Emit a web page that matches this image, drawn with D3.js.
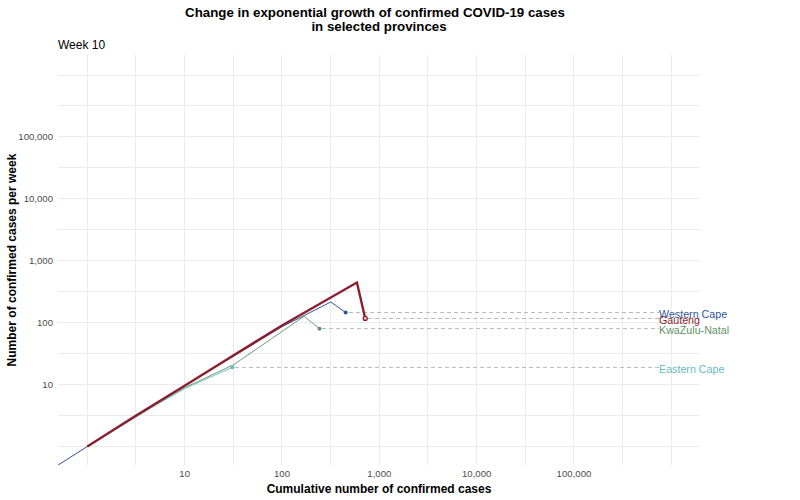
<!doctype html>
<html lang="en">
<head>
  <meta charset="utf-8">
  <title>Change in exponential growth</title>
  <style>
    html, body {
      margin: 0;
      background: #fff;
    }
    text {
      font-family: "Liberation Sans", Arial, sans-serif;
    }
    .grid line {
      stroke: #ebebeb;
      stroke-width: 1px;
      shape-rendering: crispEdges;
    }
    .tick text {
      font-size: 9.6px;
      fill: #4d4d4d;
    }
    .axis-title {
      font-size: 12px;
      font-weight: bold;
      fill: #000;
    }
    .title {
      font-size: 13.3px;
      font-weight: bold;
      fill: #000;
    }
    .subtitle {
      font-size: 12px;
      fill: #000;
    }
    .guide {
      stroke: #bbb;
      stroke-width: 1px;
      stroke-dasharray: 4 3;
      shape-rendering: crispEdges;
    }
    .label {
      font-size: 10.7px;
    }
  </style>
</head>
<body>
  <svg id="chart" width="800" height="500"></svg>
  <script src="https://d3js.org/d3.v7.min.js"></script>
  <script>
    // [cumulative cases, cases per week]
    var westernCape = [[0.5, 0.5], [1, 1], [5, 5], [31, 28], [100, 86], [318, 216], [451, 146]]
    var kwaZuluNatal = [[1, 1], [5, 4.7], [10, 8.9], [32, 21], [169, 127], [243, 80]]
    var easternCape = [[1, 1], [5, 4.6], [10, 8.6], [31, 19]]
    var gauteng = [[1, 1], [3, 3], [10, 9.6], [31, 29], [100, 90], [589, 445], [717, 117]]

    var provinces = ["Western Cape", "KwaZulu-Natal", "Eastern Cape", "Gauteng"]
    var provinceValues = [westernCape, kwaZuluNatal, easternCape, gauteng]
    var provinceColours = ["#2f5597", "#5f9368", "#66bcc0", "#8b1f2e"]
    var provinceWidths = [1, 0.9, 0.9, 2.4]

    var majorBreaks = [1, 10, 100, 1000, 10000, 100000, 1000000]
    var minorBreaks = [3.16, 31.6, 316, 3162, 31623, 316228]
    var labelledBreaks = [10, 100, 1000, 10000, 100000]

    var panel = {left: 58, right: 700, top: 55, bottom: 465}

    var x = d3.scaleLog().domain([1, 1000000]).range([87.3, 671.3])
    var y = d3.scaleLog().domain([1, 1000000]).range([446.5, 75])

    var svg = d3.select("#chart")

    svg.append("clipPath").attr("id", "panel")
      .append("rect")
      .attr("x", panel.left)
      .attr("y", panel.top)
      .attr("width", panel.right - panel.left)
      .attr("height", panel.bottom - panel.top)

    // grid
    var allBreaks = majorBreaks.concat(minorBreaks)
    var grid = svg.append("g").attr("class", "grid")
    grid.selectAll(".h").data(allBreaks).enter().append("line")
      .attr("x1", panel.left).attr("x2", panel.right)
      .attr("y1", function(d) { return y(d) }).attr("y2", function(d) { return y(d) })
    grid.selectAll(".v").data(allBreaks).enter().append("line")
      .attr("y1", panel.top).attr("y2", panel.bottom)
      .attr("x1", function(d) { return x(d) }).attr("x2", function(d) { return x(d) })

    // axes
    var xAxis = d3.axisBottom(x).tickValues(labelledBreaks).tickFormat(d3.format(",")).tickSize(0).tickPadding(5)
    var yAxis = d3.axisLeft(y).tickValues(labelledBreaks).tickFormat(d3.format(",")).tickSize(0).tickPadding(5)
    svg.append("g").attr("transform", "translate(-0.5," + panel.bottom + ")").call(xAxis)
      .call(function(g) { g.select(".domain").remove() })
    svg.append("g").attr("transform", "translate(" + panel.left + ",0)").call(yAxis)
      .call(function(g) { g.select(".domain").remove() })
    svg.selectAll(".tick text").attr("font-family", null).attr("font-size", null)

    // dashed guides to the labels
    var labelX = 659
    var ends = provinceValues.map(function(v) { return v[v.length - 1] })
    svg.append("g").selectAll("line").data(ends).enter().append("line")
      .attr("class", "guide")
      .attr("x1", function(d) { return x(d[0]) + 3 })
      .attr("x2", labelX)
      .attr("y1", function(d) { return y(d[1]) })
      .attr("y2", function(d) { return y(d[1]) })

    // lines
    var line = d3.line()
      .x(function(d) { return x(d[0]) })
      .y(function(d) { return y(d[1]) })
    svg.append("g").attr("clip-path", "url(#panel)")
      .selectAll("path").data(provinceValues).enter().append("path")
      .attr("d", line)
      .attr("fill", "none")
      .attr("stroke", function(d, i) { return provinceColours[i] })
      .attr("stroke-width", function(d, i) { return provinceWidths[i] })

    // end points
    svg.append("g").selectAll("circle").data(ends).enter().append("circle")
      .attr("cx", function(d) { return x(d[0]) })
      .attr("cy", function(d) { return y(d[1]) })
      .attr("r", 2)
      .attr("fill", function(d, i) { return i == 3 ? "#e8c8cc" : provinceColours[i] })
      .attr("stroke", function(d, i) { return i == 3 ? provinceColours[i] : "none" })
      .attr("stroke-width", 1.3)

    // labels
    svg.append("g").selectAll("text").data(ends).enter().append("text")
      .attr("class", "label")
      .attr("x", labelX)
      .attr("y", function(d) { return y(d[1]) + 5.4 })
      .attr("fill", function(d, i) { return provinceColours[i] })
      .text(function(d, i) { return provinces[i] })

    // titles
    svg.append("text").attr("class", "title").attr("text-anchor", "middle").attr("x", 375).attr("y", 16.5)
      .text("Change in exponential growth of confirmed COVID-19 cases")
    svg.append("text").attr("class", "title").attr("text-anchor", "middle").attr("x", 379).attr("y", 31)
      .text("in selected provinces")
    svg.append("text").attr("class", "subtitle").attr("x", 58).attr("y", 49).text("Week 10")
    svg.append("text").attr("class", "axis-title").attr("text-anchor", "middle").attr("x", 379).attr("y", 493)
      .text("Cumulative number of confirmed cases")
    svg.append("text").attr("class", "axis-title").attr("text-anchor", "middle")
      .attr("transform", "translate(16,260) rotate(-90)")
      .text("Number of confirmed cases per week")
  </script>
</body>
</html>
